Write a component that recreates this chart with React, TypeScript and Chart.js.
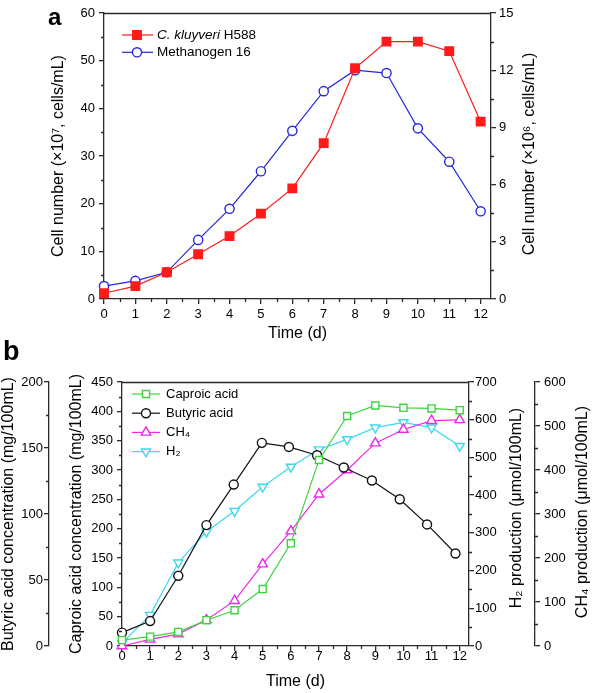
import React, { useEffect, useRef } from 'react';
import { Chart, registerables } from 'chart.js';

Chart.register(...registerables);

// ---------- Panel a data ----------
const days = [0, 1, 2, 3, 4, 5, 6, 7, 8, 9, 10, 11, 12];
const kluyveriCells = [1.2, 2.7, 5.6, 9.4, 13.2, 17.9, 23.2, 32.7, 48.4, 54.0, 54.0, 52.0, 37.2];
const methanogenCells = [0.68, 0.95, 1.4, 3.1, 4.73, 6.7, 8.82, 10.9, 12.0, 11.85, 8.95, 7.2, 4.6];
const cellTicksLeft = [0, 10, 20, 30, 40, 50, 60];
const cellTicksRight = [0, 3, 6, 9, 12, 15];

// ---------- Panel b data ----------
const caproicAcid = [10, 16, 24, 44, 61, 97, 175, 317, 392, 410, 406, 405, 402];
const butyricDays = [0, 1, 2, 3, 3.97, 4.97, 5.93, 6.93, 7.88, 8.88, 9.87, 10.84, 11.85];
const butyricAcid = [10.1, 18.9, 53.2, 91.6, 122.3, 153.9, 150.8, 144.5, 135.2, 125.4, 111.2, 92.1, 70.1];
const ch4Production = [0, 15, 27, 59, 103, 186, 261, 345, 400, 461, 492, 512, 514];
const h2Production = [8, 82, 221, 303, 358, 422, 475, 521, 548, 579, 593, 579, 530];
const butyricTicks = [0, 50, 100, 150, 200];
const caproicTicks = [0, 50, 100, 150, 200, 250, 300, 350, 400, 450];
const h2Ticks = [0, 100, 200, 300, 400, 500, 600, 700];
const ch4Ticks = [0, 100, 200, 300, 400, 500, 600];

const FONT = '"Liberation Sans", Arial, Helvetica, sans-serif';
const AXIS = '#2a2a2a';
const RED = '#ff1a1a';
const BLUE = '#2626dc';
const GREEN = '#3fd43f';
const BLACK = '#111111';
const MAGENTA = '#ea2aea';
const CYAN = '#3ed8ee';

const pts = (xs: number[], ys: number[]) => xs.map((x, i) => ({ x, y: ys[i] }));

function drawMarker(ctx: CanvasRenderingContext2D, ds: any, x: number, y: number) {
  const r = ds.pointRadius;
  const style = ds.pointStyle;
  const rot = ds.pointRotation || 0;
  ctx.beginPath();
  if (style === 'rect') {
    const s = r * Math.SQRT1_2;
    ctx.rect(x - s, y - s, 2 * s, 2 * s);
  } else if (style === 'circle') {
    ctx.arc(x, y, r, 0, Math.PI * 2);
  } else {
    let a = (rot * Math.PI) / 180;
    for (let k = 0; k < 3; k++) {
      const px = x + Math.sin(a) * r;
      const py = y - Math.cos(a) * r;
      if (k === 0) ctx.moveTo(px, py);
      else ctx.lineTo(px, py);
      a += (2 * Math.PI) / 3;
    }
    ctx.closePath();
  }
  ctx.fillStyle = ds.pointBackgroundColor;
  ctx.fill();
  ctx.lineWidth = ds.pointBorderWidth;
  ctx.strokeStyle = ds.pointBorderColor;
  ctx.stroke();
}

const extras = {
  id: 'extras',
  afterDraw(chart: any, _args: any, opts: any) {
    const ctx: CanvasRenderingContext2D = chart.ctx;
    const area = chart.chartArea;
    ctx.save();
    // top frame line
    ctx.strokeStyle = AXIS;
    ctx.lineWidth = 1.3;
    ctx.beginPath();
    ctx.moveTo(area.left, Math.round(area.top) + 0.5);
    ctx.lineTo(area.right, Math.round(area.top) + 0.5);
    ctx.stroke();

    // minor ticks
    const minor = opts.minor || {};
    Object.keys(minor).forEach((id) => {
      const s = chart.scales[id];
      if (!s) return;
      const step = minor[id];
      ctx.beginPath();
      for (let k = 1; s.min + k * step <= s.max + 1e-9; k += 2) {
        const v = s.min + k * step;
        const p = Math.round(s.getPixelForValue(v)) + 0.5;
        if (s.position === 'bottom') {
          ctx.moveTo(p, s.top);
          ctx.lineTo(p, s.top + 3);
        } else if (s.position === 'left') {
          ctx.moveTo(s.right, p);
          ctx.lineTo(s.right - 3, p);
        } else {
          ctx.moveTo(s.left, p);
          ctx.lineTo(s.left + 3, p);
        }
      }
      ctx.stroke();
    });

    // right-side titles, reading bottom to top
    ctx.fillStyle = '#000';
    ctx.textAlign = 'center';
    ctx.textBaseline = 'middle';
    (opts.rightTitles || []).forEach((t: any) => {
      ctx.save();
      ctx.translate(t.x, t.y);
      ctx.rotate(-Math.PI / 2);
      ctx.font = `16px ${FONT}`;
      ctx.fillText(t.text, 0, 0);
      ctx.restore();
    });

    // panel letter
    if (opts.panel) {
      ctx.font = `bold ${opts.panel.size}px ${FONT}`;
      ctx.textAlign = 'left';
      ctx.textBaseline = 'alphabetic';
      ctx.fillText(opts.panel.text, opts.panel.x, opts.panel.y);
    }

    // legend
    const lg = opts.legend;
    if (lg) {
      lg.rows.forEach((row: any, i: number) => {
        const ds = chart.data.datasets[row.dataset];
        const y = lg.y0 + i * lg.dy;
        ctx.strokeStyle = ds.borderColor;
        ctx.lineWidth = ds.borderWidth;
        ctx.beginPath();
        ctx.moveTo(lg.x0, y);
        ctx.lineTo(lg.x1, y);
        ctx.stroke();
        drawMarker(ctx, ds, lg.mx, y);
        let tx = lg.tx;
        ctx.fillStyle = '#000';
        ctx.textAlign = 'left';
        ctx.textBaseline = 'middle';
        row.parts.forEach((p: any) => {
          ctx.font = `${p.italic ? 'italic ' : ''}${lg.size}px ${FONT}`;
          ctx.fillText(p.text, tx, y);
          tx += ctx.measureText(p.text).width;
        });
      });
    }
    ctx.restore();
  },
};

function vScale(
  position: 'left' | 'right',
  min: number,
  max: number,
  tickValues: number[],
  width: number,
  pad: number,
  weight: number,
  title?: { text: string; pad: number }
): any {
  return {
    type: 'linear',
    position,
    weight,
    min,
    max,
    afterBuildTicks: (s: any) => {
      s.ticks = tickValues.map((v) => ({ value: v }));
    },
    afterFit: (s: any) => {
      s.width = width;
    },
    ticks: { font: { family: FONT, size: 13 }, color: '#000', padding: pad, autoSkip: false },
    grid: { drawOnChartArea: false, drawTicks: true, tickLength: 5, color: AXIS, lineWidth: 1.3 },
    border: { display: true, color: AXIS, width: 1.3 },
    title: title
      ? {
          display: true,
          text: title.text,
          color: '#000',
          font: { family: FONT, size: 16 },
          padding: { top: title.pad, bottom: 0 },
        }
      : { display: false },
  };
}

function xScale(height: number, pad: number): any {
  return {
    type: 'linear',
    position: 'bottom',
    min: 0,
    max: 12.33,
    afterBuildTicks: (s: any) => {
      s.ticks = days.map((v) => ({ value: v }));
    },
    afterFit: (s: any) => {
      s.height = height;
    },
    ticks: { font: { family: FONT, size: 13 }, color: '#000', padding: pad, autoSkip: false, maxRotation: 0 },
    grid: { drawOnChartArea: false, drawTicks: true, tickLength: 5, color: AXIS, lineWidth: 1.3 },
    border: { display: true, color: AXIS, width: 1.3 },
    title: {
      display: true,
      text: 'Time (d)',
      color: '#000',
      font: { family: FONT, size: 16 },
      padding: { top: 0, bottom: 1.4 },
    },
  };
}

function lineDs(label: string, data: any[], axis: string, color: string, style: string, radius: number, filled: boolean, rotation = 0): any {
  return {
    label,
    data,
    yAxisID: axis,
    borderColor: color,
    backgroundColor: color,
    borderWidth: 1.2,
    pointStyle: style,
    pointRadius: radius,
    pointRotation: rotation,
    pointBorderColor: color,
    pointBackgroundColor: filled ? color : '#ffffff',
    pointBorderWidth: 1.4,
    tension: 0,
    clip: false,
  };
}

export default function App() {
  const refA = useRef<HTMLCanvasElement>(null);
  const refB = useRef<HTMLCanvasElement>(null);

  useEffect(() => {
    document.body.style.margin = '0';
    const chartA = new Chart(refA.current as HTMLCanvasElement, {
      type: 'line',
      data: {
        datasets: [
          lineDs('C. kluyveri H588', pts(days, kluyveriCells), 'y', RED, 'rect', 6, true),
          lineDs('Methanogen 16', pts(days, methanogenCells), 'y2', BLUE, 'circle', 4.6, false),
        ],
      },
      options: {
        responsive: false,
        animation: false,
        events: [],
        layout: { padding: { top: 13, left: 0, right: 0, bottom: 0 } },
        plugins: {
          legend: { display: false },
          tooltip: { enabled: false },
          extras: {
            minor: { x: 0.5, y: 5, y2: 1.5 },
            rightTitles: [{ text: 'Cell number (×10⁶, cells/mL)', x: 530, y: 154 }],
            panel: { text: 'a', x: 48, y: 25, size: 24 },
            legend: {
              x0: 122,
              x1: 153,
              mx: 137,
              tx: 157,
              y0: 35,
              dy: 17.3,
              size: 13.5,
              rows: [
                { dataset: 0, parts: [{ text: 'C. kluyveri', italic: true }, { text: ' H588' }] },
                { dataset: 1, parts: [{ text: 'Methanogen 16' }] },
              ],
            },
          },
        } as any,
        scales: {
          x: xScale(46, 3),
          y: vScale('left', 0, 60, cellTicksLeft, 104, 4, 0, { text: 'Cell number (×10⁷, cells/mL)', pad: 49 }),
          y2: vScale('right', 0, 15, cellTicksRight, 107, 3, 0),
        },
      },
      plugins: [extras],
    } as any);

    const chartB = new Chart(refB.current as HTMLCanvasElement, {
      type: 'line',
      data: {
        datasets: [
          lineDs('Caproic acid', pts(days, caproicAcid), 'yCap', GREEN, 'rect', 5, false),
          lineDs('Butyric acid', pts(butyricDays, butyricAcid), 'yBut', BLACK, 'circle', 4.5, false),
          lineDs('CH₄', pts(days, ch4Production), 'yCH4', MAGENTA, 'triangle', 5.5, false),
          lineDs('H₂', pts(days, h2Production), 'yH2', CYAN, 'triangle', 5.3, false, 180),
        ],
      },
      options: {
        responsive: false,
        animation: false,
        events: [],
        layout: { padding: { top: 52, left: 0, right: 0, bottom: 0 } },
        plugins: {
          legend: { display: false },
          tooltip: { enabled: false },
          extras: {
            minor: { x: 0.5, yCap: 25, yBut: 25, yH2: 50, yCH4: 50 },
            rightTitles: [
              { text: 'H₂ production (μmol/100mL)', x: 517, y: 178 },
              { text: 'CH₄ production (μmol/100mL)', x: 583, y: 182 },
            ],
            panel: { text: 'b', x: 3, y: 30, size: 27 },
            legend: {
              x0: 132,
              x1: 160,
              mx: 146,
              tx: 166,
              y0: 64,
              dy: 19.2,
              size: 13,
              rows: [
                { dataset: 0, parts: [{ text: 'Caproic acid' }] },
                { dataset: 1, parts: [{ text: 'Butyric acid' }] },
                { dataset: 2, parts: [{ text: 'CH₄' }] },
                { dataset: 3, parts: [{ text: 'H₂' }] },
              ],
            },
          },
        } as any,
        scales: {
          x: xScale(47, -2),
          yCap: vScale('left', 0, 450, caproicTicks, 73, 4, 0, { text: 'Caproic acid concentration (mg/100mL)', pad: 18 }),
          yBut: vScale('left', 0, 200, butyricTicks, 49, 1, 1, { text: 'Butyric acid concentration (mg/100mL)', pad: -1 }),
          yH2: vScale('right', 0, 700, h2Ticks, 66, 1, 0),
          yCH4: vScale('right', 0, 600, ch4Ticks, 63, 4, 1),
        },
      },
      plugins: [extras],
    } as any);

    return () => {
      chartA.destroy();
      chartB.destroy();
    };
  }, []);

  return (
    <div style={{ position: 'fixed', left: 0, top: 0, width: 598, height: 693, background: '#ffffff' }}>
      <canvas
        ref={refA}
        width={598}
        height={345}
        style={{ position: 'absolute', left: 0, top: 0, width: 598, height: 345 }}
      />
      <canvas
        ref={refB}
        width={598}
        height={363}
        style={{ position: 'absolute', left: 0, top: 330, width: 598, height: 363 }}
      />
    </div>
  );
}
